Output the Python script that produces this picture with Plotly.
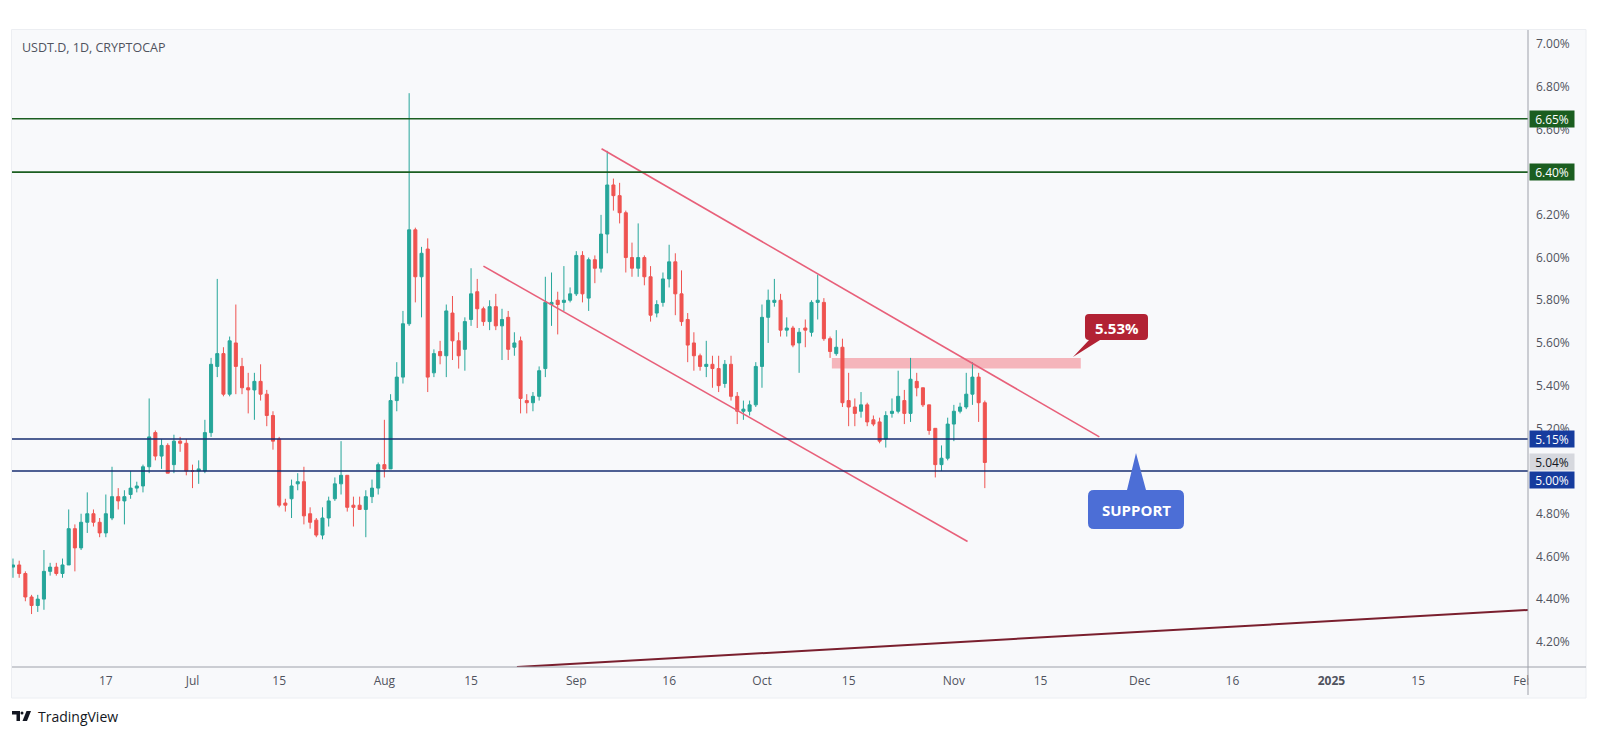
import plotly.graph_objects as go
import pandas as pd

# ---------------- data ----------------
first_day = "2024-06-02"
opens = [4.55,4.56,4.52,4.41,4.37,4.40,4.53,4.55,4.52,4.56,
         4.73,4.64,4.76,4.80,4.76,4.71,4.78,4.88,4.86,4.89,
         4.92,4.93,5.02,5.18,5.07,5.12,5.03,5.14,5.13,5.00,
         5.00,5.00,5.18,5.49,5.55,5.36,5.60,5.49,5.39,5.38,
         5.42,5.36,5.26,5.15,4.85,4.87,4.94,4.95,4.80,4.77,
         4.70,4.78,4.87,4.94,4.98,4.84,4.84,4.82,4.88,4.92,
         5.03,5.01,5.33,5.44,5.69,6.13,5.91,6.04,5.46,5.56,
         5.54,5.74,5.61,5.57,5.71,5.84,5.76,5.70,5.77,5.68,
         5.72,5.58,5.61,5.33,5.32,5.35,5.48,5.78,5.80,5.79,
         5.80,5.83,6.01,5.81,5.99,5.95,6.11,6.34,6.29,6.21,
         6.00,5.95,6.00,5.91,5.74,5.79,5.90,5.98,5.83,5.71,
         5.60,5.54,5.49,5.50,5.48,5.41,5.50,5.35,5.28,5.28,
         5.31,5.49,5.72,5.79,5.80,5.66,5.67,5.60,5.67,5.65,
         5.79,5.79,5.62,5.55,5.58,5.33,5.30,5.28,5.31,5.24,
         5.23,5.15,5.27,5.28,5.33,5.27,5.42,5.39,5.31,5.20,
         5.03,5.06,5.22,5.28,5.30,5.36,5.44,5.32]
highs = [4.59,4.58,4.53,4.42,4.42,4.63,4.57,4.57,4.59,4.82,
         4.75,4.80,4.90,4.82,4.78,4.89,5.02,4.92,4.91,5.00,
         4.95,5.03,5.34,5.19,5.15,5.13,5.17,5.16,5.15,5.03,
         5.05,5.24,5.53,5.90,5.58,5.63,5.78,5.53,5.46,5.46,
         5.50,5.38,5.28,5.16,4.87,4.96,4.99,5.02,4.83,4.78,
         4.83,4.88,4.97,5.14,4.98,4.88,4.88,4.91,4.96,5.04,
         5.24,5.36,5.51,5.75,6.77,6.14,6.05,6.09,5.57,5.61,
         5.78,5.82,5.65,5.72,5.95,5.90,5.77,5.80,5.83,5.76,
         5.75,5.65,5.63,5.36,5.37,5.49,5.91,5.93,5.84,5.96,
         5.86,6.03,6.03,6.00,6.01,6.20,6.50,6.37,6.35,6.22,
         6.07,6.16,6.01,5.96,5.80,5.93,6.06,6.02,5.94,5.74,
         5.65,5.55,5.61,5.54,5.54,5.52,5.54,5.37,5.33,5.33,
         5.51,5.78,5.85,5.90,5.83,5.72,5.68,5.67,5.71,5.80,
         5.92,5.81,5.63,5.66,5.62,5.46,5.34,5.37,5.32,5.26,
         5.25,5.28,5.34,5.47,5.38,5.53,5.46,5.39,5.31,5.20,
         5.12,5.25,5.31,5.32,5.46,5.51,5.46,5.33]
lows = [4.50,4.50,4.39,4.33,4.34,4.35,4.51,4.51,4.50,4.56,
        4.53,4.63,4.71,4.74,4.69,4.69,4.77,4.82,4.75,4.87,
        4.90,4.90,4.99,5.05,5.01,4.99,4.99,5.09,4.98,4.92,
        4.94,4.99,5.16,5.44,5.35,5.35,5.36,5.36,5.27,5.24,
        5.33,5.21,5.10,4.83,4.81,4.78,4.91,4.75,4.73,4.69,
        4.68,4.74,4.86,4.89,4.81,4.74,4.82,4.69,4.85,4.89,
        4.97,5.01,5.28,5.41,5.68,5.79,5.72,5.37,5.44,5.50,
        5.44,5.52,5.48,5.47,5.68,5.67,5.68,5.66,5.66,5.52,
        5.52,5.54,5.27,5.27,5.28,5.33,5.44,5.68,5.64,5.75,
        5.79,5.82,5.79,5.75,5.88,5.93,6.02,6.22,6.16,5.93,
        5.91,5.91,5.87,5.70,5.72,5.77,5.86,5.73,5.68,5.51,
        5.47,5.47,5.44,5.39,5.37,5.39,5.33,5.22,5.24,5.26,
        5.30,5.39,5.60,5.77,5.63,5.63,5.58,5.46,5.58,5.63,
        5.71,5.61,5.53,5.54,5.30,5.21,5.21,5.25,5.21,5.21,
        5.13,5.11,5.25,5.27,5.22,5.23,5.35,5.30,5.17,4.97,
        5.00,5.05,5.14,5.27,5.29,5.31,5.23,4.92]
closes = [4.56,4.52,4.41,4.37,4.40,4.53,4.55,4.52,4.56,4.73,
          4.64,4.76,4.80,4.76,4.71,4.80,4.88,4.86,4.88,4.92,
          4.93,5.02,5.16,5.07,5.12,4.99,5.14,5.13,5.00,5.00,
          5.01,5.18,5.50,5.55,5.36,5.61,5.49,5.39,5.38,5.42,
          5.36,5.26,5.14,4.84,4.84,4.93,4.95,4.79,4.76,4.70,
          4.78,4.86,4.94,4.98,4.83,4.83,4.82,4.88,4.92,5.03,
          5.01,5.33,5.44,5.69,6.13,5.91,6.02,5.44,5.55,5.54,
          5.75,5.61,5.54,5.70,5.83,5.76,5.70,5.77,5.68,5.71,
          5.57,5.60,5.34,5.32,5.35,5.47,5.79,5.79,5.78,5.80,
          5.83,6.01,5.83,5.99,5.95,6.11,6.34,6.29,6.21,6.00,
          5.95,6.00,5.91,5.73,5.78,5.90,5.98,5.83,5.70,5.59,
          5.54,5.49,5.50,5.48,5.40,5.50,5.35,5.28,5.29,5.31,
          5.49,5.72,5.80,5.80,5.66,5.67,5.59,5.65,5.66,5.79,
          5.80,5.62,5.56,5.58,5.32,5.30,5.27,5.31,5.23,5.22,
          5.14,5.26,5.28,5.35,5.27,5.43,5.39,5.31,5.19,5.03,
          5.06,5.22,5.28,5.30,5.36,5.44,5.32,5.04]
dates = pd.date_range(first_day, periods=len(closes), freq="D")

# horizontal levels
resistance_levels = [6.65, 6.40]
support_levels = [5.15, 5.00]
last_price = 5.04

# drawn trend lines (two end points each)
channel_top_x = ["2024-09-05 02:00", "2024-11-24 12:00"]
channel_top_y = [6.51, 5.16]
channel_bot_x = ["2024-08-17 00:00", "2024-11-03 05:00"]
channel_bot_y = [5.96, 4.67]
long_trend_x = ["2024-08-22 10:00", "2025-02-01 18:00"]
long_trend_y = [4.082, 4.349]

# resistance zone
zone_x = ["2024-10-12 07:00", "2024-11-21 12:00"]
zone_y = [5.48, 5.53]
zone_label = "5.53%"

# axes
x_range = ["2024-06-01 20:10", "2025-02-01 18:00"]
y_range = [4.082, 7.066]
x_tickvals = ["2024-06-17", "2024-07-01", "2024-07-15", "2024-08-01", "2024-08-15",
              "2024-09-01", "2024-09-16", "2024-10-01", "2024-10-15", "2024-11-01",
              "2024-11-15", "2024-12-01", "2024-12-16", "2025-01-01", "2025-01-15",
              "2025-02-01"]
x_ticktext = ["17", "Jul", "15", "Aug", "15", "Sep", "16", "Oct", "15", "Nov",
              "15", "Dec", "16", "<b>2025</b>", "15", "Feb"]
y_tickvals = [4.2, 4.4, 4.6, 4.8, 5.2, 5.4, 5.6, 5.8, 6.0, 6.2, 6.4, 6.6, 6.8, 7.0]
y_ticktext = [f"{v:.2f}%" for v in y_tickvals]

# ---------------- styling / layout ----------------
OFF = 8                                   # default page margin of the html body
W, H = 1597 - 2 * OFF, 736 - 2 * OFF
PL, PR, PT, PB = 12, 1528, 30, 667        # plot area in page pixels
PANE_R, PANE_B = 1586, 698
UP, DOWN = "#26a69a", "#ef5350"
PANE_BG = "#f8f9fb"
TXT = "#50535e"
FONT = "Open Sans"


def px(X):
    return (X - PL) / (PR - PL)


def py(Y):
    return (PB - Y) / (PB - PT)


def callout_path(x0, y0, x1, y1, r, edge, b0, tip, b1):
    """Rounded box with a pointer on the top or bottom edge (page pixels -> paper)."""
    pts = []
    def P(cmd, *xy):
        s = cmd
        for i in range(0, len(xy), 2):
            s += f" {px(xy[i]):.5f},{py(xy[i+1]):.5f}"
        pts.append(s)
    P("M", x0 + r, y0)
    if edge == "top":
        P("L", b0, y0); P("L", *tip); P("L", b1, y0)
    P("L", x1 - r, y0)
    P("Q", x1, y0, x1, y0 + r)
    P("L", x1, y1 - r)
    P("Q", x1, y1, x1 - r, y1)
    if edge == "bottom":
        P("L", b1, y1); P("L", *tip); P("L", b0, y1)
    P("L", x0 + r, y1)
    P("Q", x0, y1, x0, y1 - r)
    P("L", x0, y0 + r)
    P("Q", x0, y0, x0 + r, y0)
    return " ".join(pts) + " Z"


fig = go.Figure()
fig.add_trace(go.Candlestick(
    x=dates, open=opens, high=highs, low=lows, close=closes,
    increasing=dict(line=dict(color=UP, width=1), fillcolor=UP),
    decreasing=dict(line=dict(color=DOWN, width=1), fillcolor=DOWN),
    showlegend=False, hoverinfo="skip"))

for xs, ys in [(channel_top_x, channel_top_y), (channel_bot_x, channel_bot_y)]:
    fig.add_trace(go.Scatter(x=xs, y=ys, mode="lines", showlegend=False,
                             line=dict(color="#e8607a", width=1.6), hoverinfo="skip"))
fig.add_trace(go.Scatter(x=long_trend_x, y=long_trend_y, mode="lines", showlegend=False,
                         line=dict(color="#7a1f2e", width=2), hoverinfo="skip"))

shapes = []
# pane background
shapes.append(dict(type="rect", xref="paper", yref="paper", layer="below",
                   x0=px(PL - 0.5), x1=px(PANE_R), y0=py(PANE_B), y1=py(PT - 0.5),
                   fillcolor=PANE_BG, line=dict(color="#eceef2", width=1)))
# resistance zone
shapes.append(dict(type="rect", xref="x", yref="y", layer="below",
                   x0=zone_x[0], x1=zone_x[1], y0=zone_y[0], y1=zone_y[1],
                   fillcolor="rgba(242,54,69,0.35)", line=dict(width=0)))
for lv in resistance_levels:
    shapes.append(dict(type="line", xref="paper", yref="y", x0=0, x1=1, y0=lv, y1=lv,
                       line=dict(color="#1b5e20", width=1.6)))
for lv in support_levels:
    shapes.append(dict(type="line", xref="paper", yref="y", x0=0, x1=1, y0=lv, y1=lv,
                       line=dict(color="#172d70", width=1.6)))
# cover the overflowing part of the last time label
shapes.append(dict(type="rect", xref="paper", yref="paper", layer="above",
                   x0=px(PR + 0.5), x1=px(PANE_R - 1), y0=py(PANE_B - 1), y1=py(PB + 1),
                   fillcolor=PANE_BG, line=dict(width=0)))
# axis separators
shapes.append(dict(type="line", xref="paper", yref="paper", x0=px(PR), x1=px(PR),
                   y0=py(PANE_B - 3), y1=py(PT), line=dict(color="#9ea1aa", width=1)))
shapes.append(dict(type="line", xref="paper", yref="paper", x0=px(PL), x1=px(PANE_R),
                   y0=py(PB), y1=py(PB), line=dict(color="#9ea1aa", width=1)))
# callouts
shapes.append(dict(type="path", xref="paper", yref="paper",
                   path=callout_path(1085, 314, 1148, 340, 4, "bottom", 1089, (1073, 357), 1100),
                   fillcolor="#b22234", line=dict(width=0)))
shapes.append(dict(type="path", xref="paper", yref="paper",
                   path=callout_path(1088, 490, 1184, 529, 6, "top", 1127, (1136, 453), 1146),
                   fillcolor="#4c6ed6", line=dict(width=0)))
# TradingView logo glyph
shapes.append(dict(type="path", xref="paper", yref="paper",
                   path=f"M {px(12)},{py(711)} L {px(20)},{py(711)} L {px(20)},{py(721)} "
                        f"L {px(16.5)},{py(721)} L {px(16.5)},{py(714.5)} L {px(12)},{py(714.5)} Z",
                   fillcolor="#131722", line=dict(width=0)))
shapes.append(dict(type="circle", xref="paper", yref="paper",
                   x0=px(20.5), x1=px(23.5), y0=py(714.5), y1=py(711.5),
                   fillcolor="#131722", line=dict(width=0)))
shapes.append(dict(type="path", xref="paper", yref="paper",
                   path=f"M {px(26.5)},{py(711)} L {px(31)},{py(711)} L {px(27)},{py(721)} "
                        f"L {px(22.5)},{py(721)} Z",
                   fillcolor="#131722", line=dict(width=0)))

annotations = []
annotations.append(dict(xref="paper", yref="paper", x=px(20), y=py(47.5), xanchor="left",
                        yanchor="middle", showarrow=False, text="USDT.D, 1D, CRYPTOCAP",
                        font=dict(family=FONT, size=12.5, color=TXT)))
annotations.append(dict(xref="paper", yref="paper", x=px(36), y=py(716), xanchor="left",
                        yanchor="middle", showarrow=False, text="TradingView",
                        font=dict(family=FONT, size=14, color="#131722")))
annotations.append(dict(xref="paper", yref="paper", x=px(1116.5), y=py(327.5),
                        xanchor="center", yanchor="middle",
                        showarrow=False, text=f"<b>{zone_label}</b>",
                        font=dict(family=FONT, size=15, color="white")))
annotations.append(dict(xref="paper", yref="paper", x=px(1136), y=py(510),
                        xanchor="center", yanchor="middle",
                        showarrow=False, text="<b>SUPPORT</b>",
                        font=dict(family=FONT, size=15, color="white")))


def price_tag(v, bg, fg, yshift=0):
    return dict(xref="paper", yref="y", x=px(PR + 1), y=v, xanchor="left", yanchor="middle",
                showarrow=False, text=f"{v:.2f}%", bgcolor=bg, width=42, height=14,
                borderpad=1, yshift=yshift, align="center",
                font=dict(family=FONT, size=12, color=fg))


for lv in resistance_levels:
    annotations.append(price_tag(lv, "#1b5e20", "white"))
annotations.append(price_tag(last_price, "#d6d8de", "#131722"))
annotations.append(price_tag(support_levels[0], "#163c9e", "white"))
annotations.append(price_tag(support_levels[1], "#163c9e", "white", yshift=-9))

fig.update_layout(
    width=W, height=H,
    margin=dict(l=PL - OFF, r=W - (PR - OFF), t=PT - OFF, b=H - (PB - OFF), pad=0),
    paper_bgcolor="white", plot_bgcolor=PANE_BG,
    shapes=shapes, annotations=annotations,
    font=dict(family=FONT, size=12, color=TXT),
    xaxis=dict(type="date", range=x_range, tickvals=x_tickvals, ticktext=x_ticktext,
               showgrid=False, zeroline=False, showline=False, ticks="",
               ticklabelstandoff=5, tickfont=dict(family=FONT, size=12, color=TXT),
               rangeslider=dict(visible=False), fixedrange=True),
    yaxis=dict(side="right", range=y_range, tickvals=y_tickvals, ticktext=y_ticktext,
               showgrid=False, zeroline=False, showline=False, ticks="",
               ticklabelstandoff=7, tickfont=dict(family=FONT, size=12, color=TXT),
               fixedrange=True),
)

fig.write_html("out.html")
